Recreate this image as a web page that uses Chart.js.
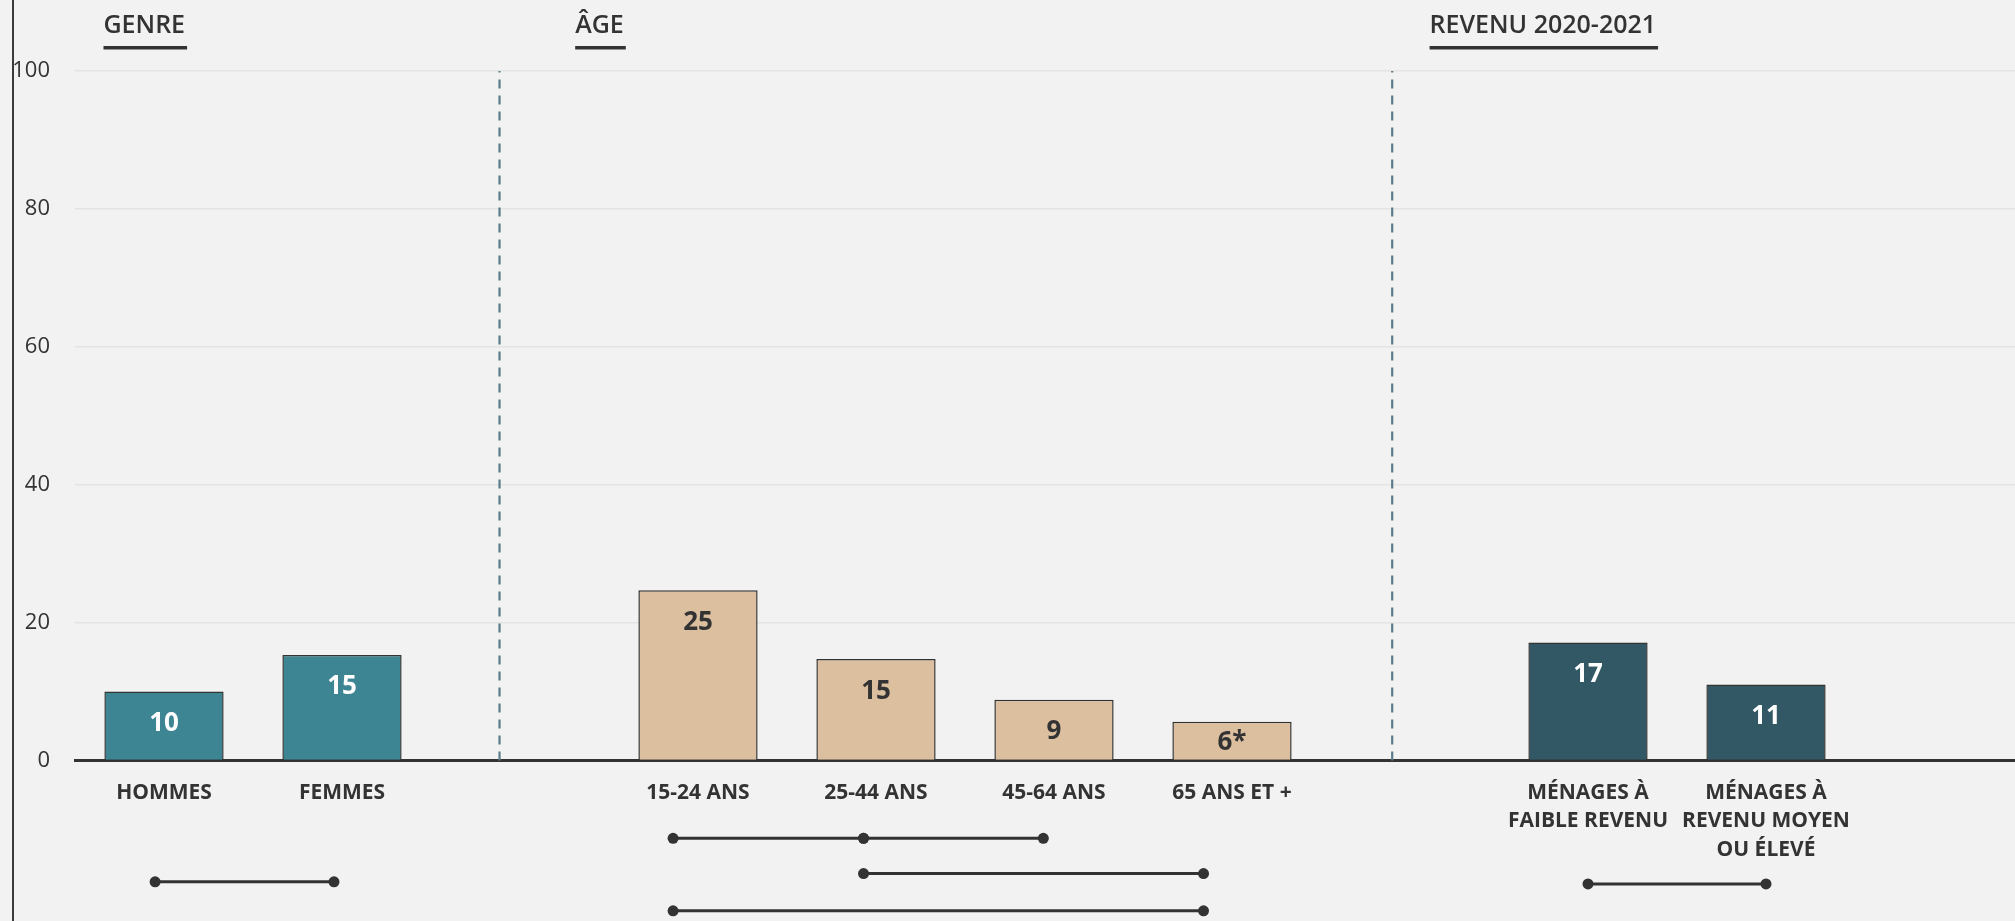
<!DOCTYPE html>
<html lang="fr">
<head>
<meta charset="utf-8">
<script src="https://cdn.jsdelivr.net/npm/chart.js@4.4.1/dist/chart.umd.min.js"></script>
<style>
  html, body { margin: 0; padding: 0; background: #f2f2f2; overflow: hidden; }
  #wrap { position: relative; width: 2015px; height: 921px; overflow: hidden; }
  #edge { position: absolute; left: 12px; top: 0; width: 1.5px; height: 921px; background: #3a3a3a; }
  canvas { position: absolute; left: 0; top: 0; }
</style>
</head>
<body>
<div id="wrap">
  <canvas id="chart" width="2040" height="960"></canvas>
  <div id="edge"></div>
</div>
<script>
// catégories (les cases vides servent d'espace entre les groupes)
const categories = [
  'HOMMES', 'FEMMES', '',
  '15-24 ANS', '25-44 ANS', '45-64 ANS', '65 ANS ET +', '',
  ['MÉNAGES À', 'FAIBLE REVENU'], ['MÉNAGES À', 'REVENU MOYEN', 'OU ÉLEVÉ'], ''
];
const groups = ['genre', 'genre', null, 'age', 'age', 'age', 'age', null, 'revenu', 'revenu', null];
const values = [10, 15.3, null, 24.7, 14.7, 8.8, 5.6, null, 17.1, 11, null];
const valueLabels = ['10', '15', '', '25', '15', '9', '6*', '', '17', '11', ''];
const yTicks = [0, 20, 40, 60, 80, 100];

// titres des groupes
const headers = ['GENRE', 'ÂGE', 'REVENU 2020-2021'];
const headerAt = [-0.34, 2.31, 7.11];

// séparateurs pointillés
const separators = [1.885, 6.9];

// comparaisons significatives (traits sous les étiquettes)
const bracketFrom = [-0.05, 2.86, 3.93, 3.93, 2.86, 8.0];
const bracketTo = [0.955, 3.93, 4.94, 5.84, 5.84, 9.0];
const bracketLevel = [-17.6, -11.3, -11.3, -16.4, -21.8, -17.9];

const groupStyle = {
  genre: { fill: '#3e8594', text: '#ffffff' },
  age: { fill: '#dcbf9f', text: '#333333' },
  revenu: { fill: '#325866', text: '#ffffff' }
};

const annotations = {
  id: 'annotations',
  afterDatasetsDraw(chart) {
    const ctx = chart.ctx;
    const meta = chart.getDatasetMeta(0);
    ctx.save();
    ctx.font = 'bold 26px "Open Sans"';
    ctx.textAlign = 'center';
    ctx.textBaseline = 'middle';
    meta.data.forEach((bar, i) => {
      if (values[i] == null) return;
      const { x, y, base } = bar.getProps(['x', 'y', 'base'], true);
      const ty = Math.min(y + 32, base - 17);
      ctx.fillStyle = groupStyle[groups[i]].text;
      ctx.fillText(valueLabels[i], x, ty);
    });

    // titres soulignés
    const x2 = chart.scales.x2;
    ctx.font = '600 25px "Open Sans"';
    ctx.textAlign = 'left';
    ctx.fillStyle = '#333333';
    headers.forEach((h, i) => {
      const hx = x2.getPixelForValue(headerAt[i]);
      ctx.fillText(h, hx, 26);
      const w = ctx.measureText(h).width;
      ctx.fillRect(hx, 46, w + 2, 3.5);
    });
    ctx.restore();
  }
};

const datasets = [{
  type: 'bar',
  data: values,
  backgroundColor: groups.map(g => g ? groupStyle[g].fill : 'transparent'),
  borderColor: '#333333',
  borderWidth: 1.5,
  barPercentage: 0.67,
  categoryPercentage: 1,
  grouped: false,
  order: 1
}];

separators.forEach(s => {
  datasets.push({
    type: 'line',
    xAxisID: 'x2',
    data: [{ x: s, y: 0 }, { x: s, y: 100 }],
    borderColor: '#5b7b88',
    borderWidth: 2.2,
    borderDash: [9, 7],
    pointRadius: 0,
    order: 2
  });
});

bracketFrom.forEach((f, i) => {
  datasets.push({
    type: 'line',
    xAxisID: 'x2',
    data: [{ x: f, y: bracketLevel[i] }, { x: bracketTo[i], y: bracketLevel[i] }],
    borderColor: '#333333',
    borderWidth: 3,
    pointRadius: 5.5,
    pointBackgroundColor: '#333333',
    pointBorderWidth: 0,
    clip: false,
    order: 0
  });
});

new Chart(document.getElementById('chart'), {
  type: 'bar',
  data: { labels: categories, datasets: datasets },
  options: {
    responsive: false,
    animation: false,
    layout: { padding: { top: 71, left: 12, right: 7, bottom: 0 } },
    plugins: { legend: { display: false }, tooltip: { enabled: false } },
    scales: {
      x: {
        type: 'category',
        position: { y: 0 },
        grid: { display: false, drawTicks: false },
        border: { display: true, color: '#333333', width: 3 },
        ticks: {
          autoSkip: false,
          maxRotation: 0,
          padding: 18,
          color: '#333333',
          font: { family: '"Open Sans"', size: 21, weight: 'bold', lineHeight: 1.36 }
        }
      },
      x2: {
        type: 'linear',
        display: false,
        offset: false,
        position: 'top',
        min: -0.5,
        max: categories.length - 0.5,
        grid: { offset: false }
      },
      y: {
        min: -23.4,
        max: 100,
        afterBuildTicks: s => { s.ticks = yTicks.map(v => ({ value: v })); },
        afterFit: s => { s.width = 63; },
        grid: {
          color: c => c.tick && c.tick.value === 0 ? 'rgba(0,0,0,0)' : '#e4e4e4',
          lineWidth: 1.5,
          drawTicks: false
        },
        border: { display: false },
        ticks: { padding: 25, color: '#333333', font: { family: '"Open Sans"', size: 22 } }
      }
    }
  },
  plugins: [annotations]
});
</script>
</body>
</html>
